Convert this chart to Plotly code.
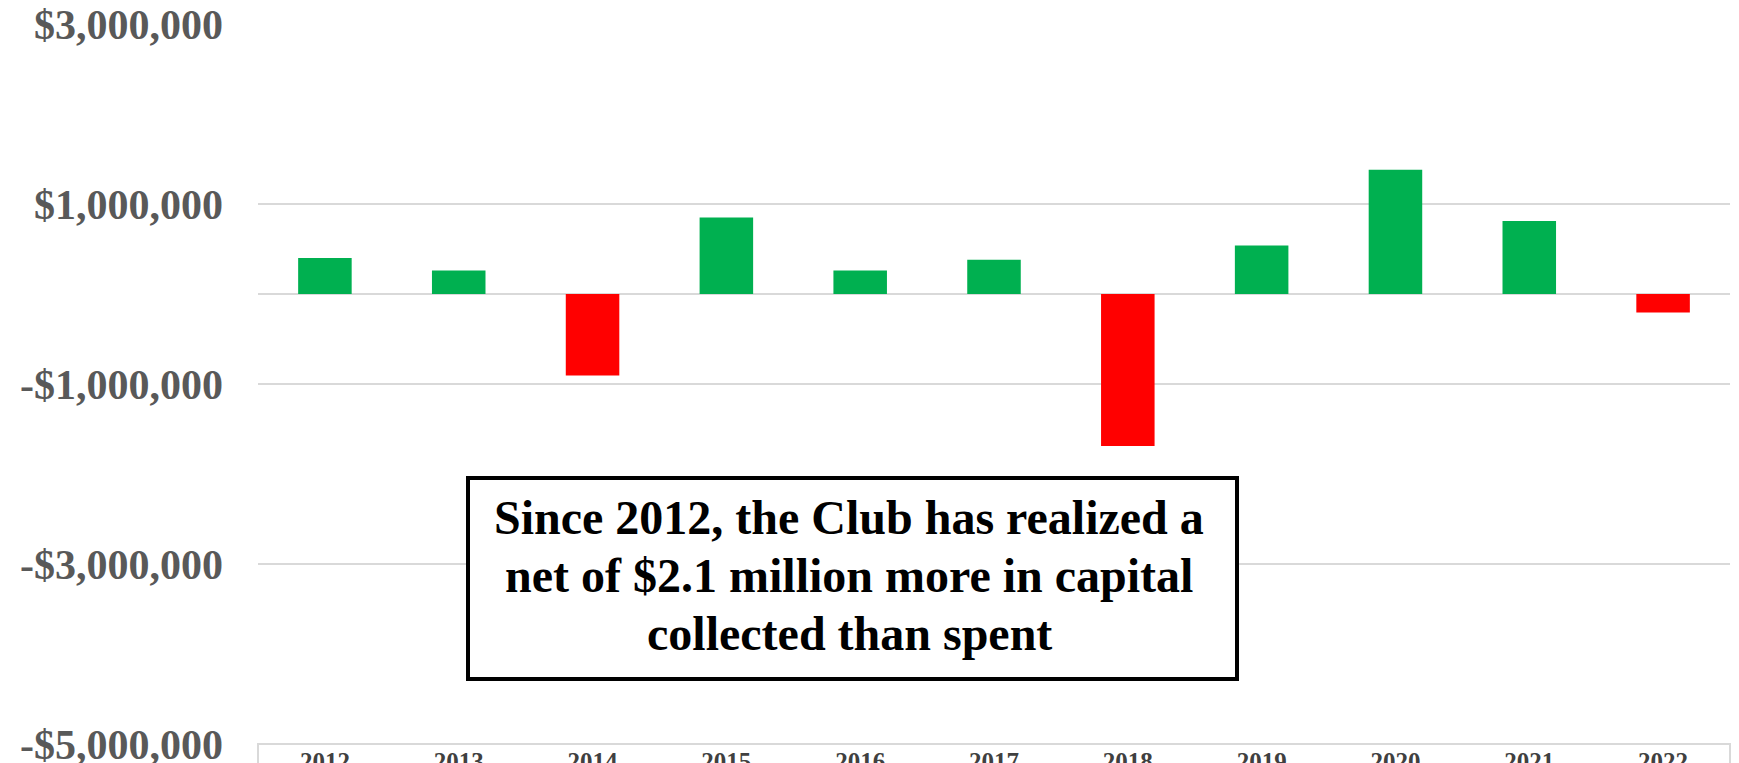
import plotly.graph_objects as go

# Net capital collected minus spent, by year (USD)
years = ["2012", "2013", "2014", "2015", "2016", "2017", "2018", "2019", "2020", "2021", "2022"]
net_capital = [400000, 260000, -905000, 850000, 260000, 380000, -1690000, 540000, 1380000, 810000, -205000]

y_tick_values = [3000000, 1000000, -1000000, -3000000, -5000000]
y_tick_labels = ["$3,000,000", "$1,000,000", "-$1,000,000", "-$3,000,000", "-$5,000,000"]

note_lines = [
    "Since 2012, the Club has realized a",
    "net of $2.1 million more in capital",
    "collected than spent",
]

GREEN = "#00B050"
RED = "#FF0000"
GRID = "#D9D9D9"
SERIF = "Liberation Serif, Times New Roman, serif"

W, H = 1739, 763
ML, MR, MT, MB = 258, 9, 24, 19
PW, PH = W - ML - MR, H - MT - MB


def px_x(px):
    return (px - ML) / PW


def px_y(py):
    return (H - MB - py) / PH


bar_colors = [GREEN if v >= 0 else RED for v in net_capital]

fig = go.Figure(
    go.Bar(
        x=years,
        y=net_capital,
        marker=dict(color=bar_colors, line=dict(width=0)),
        width=0.4,
        hoverinfo="skip",
    )
)

# Note box
fig.add_shape(
    type="rect", xref="paper", yref="paper",
    x0=px_x(468), x1=px_x(1237), y0=px_y(679), y1=px_y(478),
    line=dict(color="black", width=4), fillcolor="white", layer="above",
)

line_baselines = [534, 591.7, 649.3]
for text, base in zip(note_lines, line_baselines):
    fig.add_annotation(
        xref="paper", yref="paper",
        x=px_x(849), y=px_y(base - 16.2),
        xanchor="center", yanchor="middle",
        text=f"<b>{text}</b>", showarrow=False,
        font=dict(family=SERIF, size=48, color="black"),
    )

# Frame along the bottom of the plot (category label row)
fig.add_shape(
    type="rect", xref="paper", yref="paper",
    x0=0, x1=1, y0=-0.5, y1=0,
    line=dict(color=GRID, width=2), layer="below",
)

fig.update_layout(
    width=W, height=H,
    margin=dict(l=ML, r=MR, t=MT, b=MB, autoexpand=False),
    paper_bgcolor="white", plot_bgcolor="white",
    showlegend=False,
    bargap=0.6,
)

fig.update_yaxes(
    range=[-5000000, 3000000],
    tickvals=y_tick_values,
    ticktext=[f"<b>{t}</b>" for t in y_tick_labels],
    tickfont=dict(family=SERIF, size=42, color="#595959"),
    ticks="", ticklabelstandoff=34, ticklabeloverflow="allow",
    showgrid=True, gridcolor=GRID, gridwidth=2,
    zeroline=True, zerolinecolor=GRID, zerolinewidth=2,
    showline=False, automargin=False,
)

fig.update_xaxes(
    tickfont=dict(family=SERIF, size=25, color="#404040"),
    tickprefix="<b>", ticksuffix="</b>",
    ticks="", showgrid=False, zeroline=False, showline=False,
    ticklabeloverflow="allow", automargin=False,
)

fig.write_html("out.html")
